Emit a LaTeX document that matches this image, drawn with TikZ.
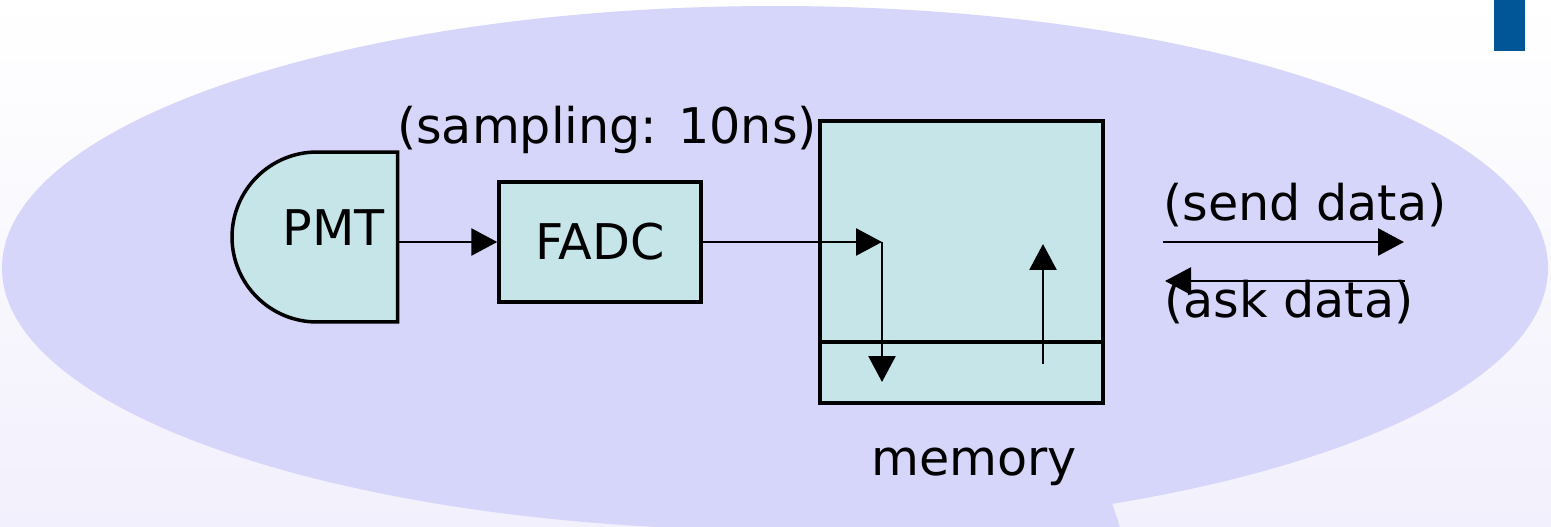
\documentclass[tikz,border=0pt]{standalone}
\usepackage{fontspec}
\setmainfont{DejaVu Sans}
\usetikzlibrary{arrows.meta,shapes.misc,positioning}
\definecolor{bubble}{RGB}{214,213,250}
\definecolor{boxfill}{RGB}{198,229,233}
\definecolor{bgbottom}{RGB}{242,240,252}
\definecolor{barblue}{RGB}{0,86,150}

\begin{document}
\begin{tikzpicture}[
    x=0.02cm, y=-0.02cm,
    blk/.style = {draw, line width=2pt, fill=boxfill, rectangle, text centered, font=\fontsize{28}{34}\selectfont},
    lbl/.style = {font=\fontsize{28}{34}\selectfont, anchor=base, inner sep=0pt},
    flow/.style = {line width=1.5pt, -{Triangle[length=0.52cm,width=0.54cm]}}
  ]
  \useasboundingbox (0,0) rectangle (1551,527);
  \clip (0,0) rectangle (1551,527);

  % background and speech bubble
  \shade[top color=white, bottom color=bgbottom] (0,0) rectangle (1551,527);
  \fill[barblue] (1494,0) rectangle (1525,51);
  \fill[bubble] (775,268) ellipse [x radius=773, y radius=262];
  \fill[bubble] (700,500) -- (1111,500) -- (1124,540) -- (700,540) -- cycle;

  % blocks
  \node[blk, rounded rectangle, rounded rectangle right arc=none,
        minimum height=3.4cm, text depth=0.36cm] (pmt) at (317,237) {\hspace*{0.76cm}PMT\hspace*{0.1cm}};
  \node[blk, minimum width=4.04cm, minimum height=2.4cm] (fadc) at (600,242) {FADC};
  \node[blk, minimum width=5.66cm, minimum height=5.64cm] (mem) at (961.5,262) {};
  \coordinate (split) at (0,342);
  \draw[line width=2pt] (mem.west |- split) -- (mem.east |- split);

  % labels
  \node[lbl] (smp) at (607,143) {(sampling: 10ns)};
  \node[lbl] (snd) at (1305,220) {(send data)};
  \node[lbl] (ask) at (1289,317) {(ask data)};
  \node[lbl] (memlbl) at (974,475) {memory};

  % data flow
  \coordinate (wr) at (882,242);
  \coordinate (wrend) at (882,382);
  \coordinate (rdlow) at (1043,364);
  \coordinate (rdtop) at (1043,244);
  \coordinate (sndA) at (1163,242);
  \coordinate (sndB) at (1404,242);
  \coordinate (askA) at (1405,281);
  \coordinate (askB) at (1165,281);

  \draw[flow] (pmt.east |- fadc.west) -- (fadc.west);
  \draw[flow] (fadc.east) -- (wr);
  \draw[flow] (wr) -- (wrend);
  \draw[flow] (rdlow) -- (rdtop);
  \draw[flow] (sndA) -- (sndB);
  \draw[flow] (askA) -- (askB);
\end{tikzpicture}
\end{document}
